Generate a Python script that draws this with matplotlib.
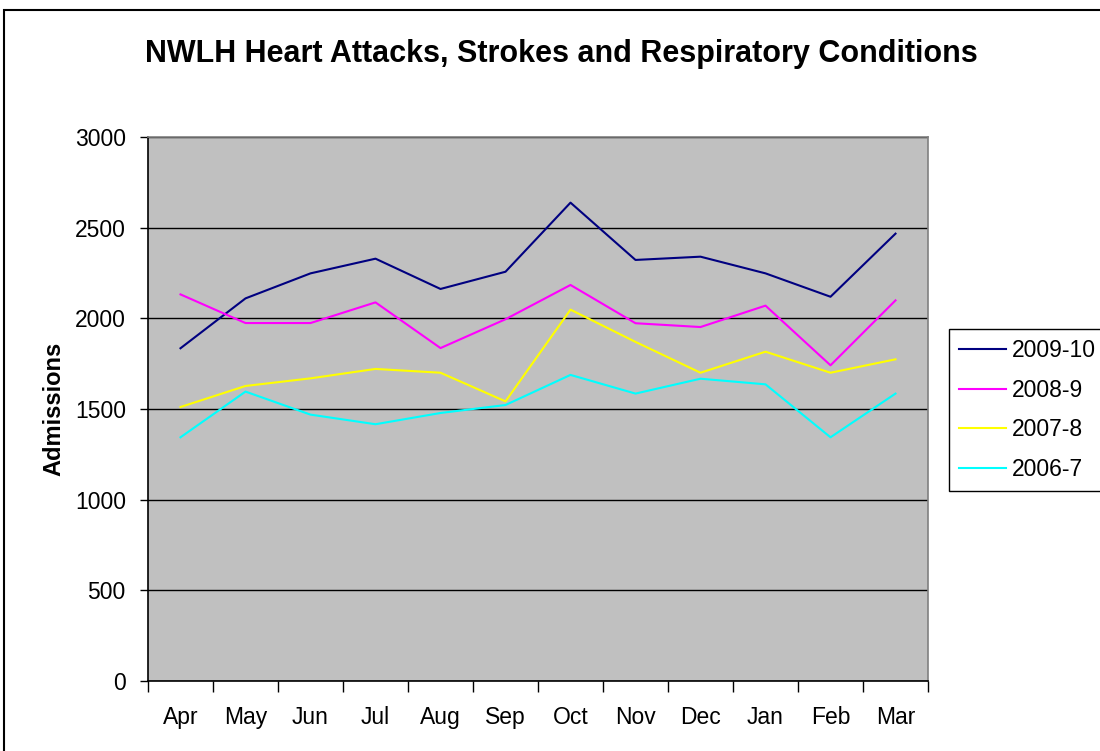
import matplotlib
matplotlib.use("Agg")
import matplotlib.pyplot as plt
from matplotlib.patches import Rectangle

plt.rcParams['font.family'] = ['Liberation Sans', 'DejaVu Sans']

months = ["Apr", "May", "Jun", "Jul", "Aug", "Sep", "Oct", "Nov", "Dec", "Jan", "Feb", "Mar"]
s2009_10 = [1835, 2110, 2248, 2329, 2162, 2257, 2638, 2322, 2340, 2248, 2119, 2467]
s2008_9 = [2132, 1974, 1974, 2088, 1836, 1995, 2184, 1973, 1952, 2070, 1741, 2099]
s2007_8 = [1511, 1627, 1669, 1721, 1700, 1542, 2048, 1870, 1700, 1816, 1700, 1774]
s2006_7 = [1344, 1596, 1469, 1416, 1478, 1522, 1688, 1585, 1667, 1636, 1344, 1585]
series_names = ["2009-10", "2008-9", "2007-8", "2006-7"]
colors = ["#000080", "#FF00FF", "#FFFF00", "#00FFFF"]
yticks = [0, 500, 1000, 1500, 2000, 2500, 3000]

W, H = 1100, 751
fig = plt.figure(figsize=(W / 100, H / 100), dpi=100)
fig.patch.set_facecolor("white")

# outer chart border
fig.add_artist(Rectangle((4 / W, -0.1), 1.2, 1.1 - 10 / H, transform=fig.transFigure,
                         fill=False, edgecolor="black", linewidth=1.5))

ax = fig.add_axes([148 / W, 1 - 681 / H, (928 - 148) / W, (681 - 137) / H])
ax.set_facecolor("#C0C0C0")

x = list(range(len(months)))
for name, vals, c in zip(series_names, [s2009_10, s2008_9, s2007_8, s2006_7], colors):
    ax.plot(x, vals, color=c, linewidth=1.5, label=name, zorder=3)

ax.set_xlim(-0.5, len(months) - 0.5)
ax.set_ylim(0, 3000)
ax.set_yticks(yticks)
ax.set_yticklabels([str(v) for v in yticks])
ax.set_xticks([i - 0.5 for i in range(len(months) + 1)])
ax.set_xticklabels([])
ax.set_xticks(x, minor=True)
ax.set_xticklabels(months, minor=True)
ax.tick_params(axis="x", which="major", direction="out", length=8, width=1, color="black")
ax.tick_params(axis="x", which="minor", length=0, pad=18, labelsize=16.5)
ax.tick_params(axis="y", direction="out", length=6, width=1, labelsize=16.5, pad=10)

ax.yaxis.grid(True, color="black", linewidth=1, zorder=1)
ax.set_axisbelow(True)
ax.spines["left"].set_color("black")
ax.spines["bottom"].set_color("black")
ax.spines["top"].set_color("#808080")
ax.spines["right"].set_color("#808080")
for s in ax.spines.values():
    s.set_linewidth(1.2)

fig.text(54 / W, 1 - 409 / H, "Admissions", rotation=90, ha="center", va="center",
         fontsize=17, fontweight="bold")

fig.text(561 / W, 1 - 54 / H, "NWLH Heart Attacks, Strokes and Respiratory Conditions",
         ha="center", va="center", fontsize=22, fontweight="bold")

leg = fig.legend(loc="upper left", bbox_to_anchor=(949 / W, 1 - 329 / H),
                 bbox_transform=fig.transFigure, fontsize=16.5, frameon=True,
                 fancybox=False, edgecolor="black", framealpha=1,
                 handlelength=2.05, handletextpad=0.26, labelspacing=0.72,
                 borderpad=0.45, borderaxespad=0)
leg.get_frame().set_linewidth(1)

fig.savefig("out.png", dpi=100)
